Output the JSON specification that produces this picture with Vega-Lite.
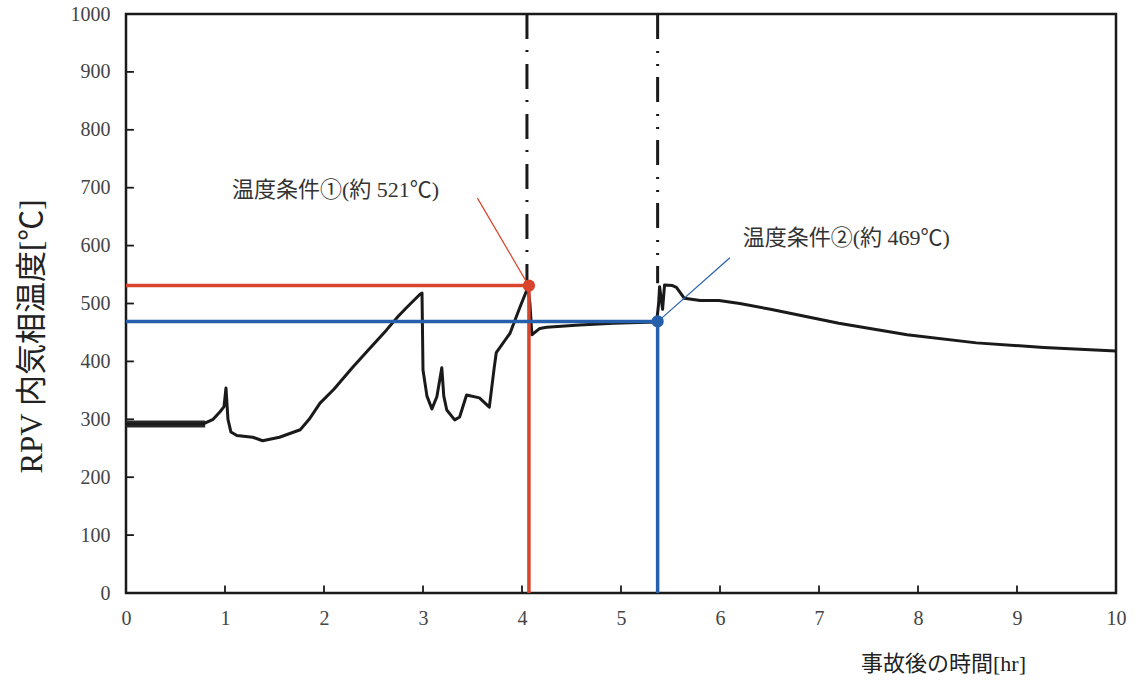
{
  "$schema": "https://vega.github.io/schema/vega-lite/v6.json",
  "width": 990,
  "height": 579,
  "autosize": {"type": "none"},
  "padding": {"left": 126, "top": 14, "right": 21, "bottom": 89},
  "background": "white",
  "config": {
    "view": {"stroke": "#1a1a1a", "strokeWidth": 2.5},
    "axis": {
      "grid": false,
      "domain": false,
      "ticks": false,
      "labelFlush": false,
      "labelFont": "Liberation Serif, Times New Roman, serif",
      "labelFontSize": 20,
      "labelColor": "#444444",
      "titleFont": "Liberation Serif, Noto Sans CJK JP",
      "titleColor": "#222222",
      "titleFontWeight": "normal"
    }
  },
  "datasets": {
    "curve": [
      {"t": 0, "v": 292}, {"t": 0.78, "v": 292}, {"t": 0.88, "v": 300}, {"t": 0.95, "v": 313},
      {"t": 0.99, "v": 322}, {"t": 1.01, "v": 354}, {"t": 1.03, "v": 300}, {"t": 1.06, "v": 278},
      {"t": 1.12, "v": 272}, {"t": 1.28, "v": 269}, {"t": 1.38, "v": 263}, {"t": 1.55, "v": 269},
      {"t": 1.76, "v": 282}, {"t": 1.85, "v": 300}, {"t": 1.96, "v": 328}, {"t": 2.1, "v": 352},
      {"t": 2.29, "v": 390}, {"t": 2.45, "v": 420}, {"t": 2.63, "v": 454}, {"t": 2.75, "v": 478},
      {"t": 2.84, "v": 494}, {"t": 2.97, "v": 516}, {"t": 2.99, "v": 518}, {"t": 3.0, "v": 385},
      {"t": 3.04, "v": 340}, {"t": 3.09, "v": 318}, {"t": 3.14, "v": 339}, {"t": 3.19, "v": 389},
      {"t": 3.21, "v": 340}, {"t": 3.24, "v": 316}, {"t": 3.32, "v": 299}, {"t": 3.37, "v": 304},
      {"t": 3.44, "v": 342}, {"t": 3.57, "v": 337}, {"t": 3.67, "v": 321}, {"t": 3.72, "v": 390},
      {"t": 3.74, "v": 415}, {"t": 3.88, "v": 449}, {"t": 3.98, "v": 494}, {"t": 4.06, "v": 528},
      {"t": 4.08, "v": 500}, {"t": 4.1, "v": 446}, {"t": 4.18, "v": 457}, {"t": 4.25, "v": 459},
      {"t": 4.58, "v": 463}, {"t": 4.92, "v": 466}, {"t": 5.36, "v": 468}, {"t": 5.38, "v": 500},
      {"t": 5.39, "v": 529}, {"t": 5.42, "v": 490}, {"t": 5.44, "v": 532}, {"t": 5.52, "v": 531},
      {"t": 5.56, "v": 528}, {"t": 5.64, "v": 509}, {"t": 5.8, "v": 505}, {"t": 5.99, "v": 505},
      {"t": 6.2, "v": 500}, {"t": 6.51, "v": 490}, {"t": 7.2, "v": 466}, {"t": 7.89, "v": 446},
      {"t": 8.59, "v": 432}, {"t": 9.27, "v": 424}, {"t": 10, "v": 418}
    ],
    "band": [{"t": 0, "v": 292}, {"t": 0.8, "v": 292}],
    "xticks": [{"t": 1}, {"t": 2}, {"t": 3}, {"t": 4}, {"t": 5}, {"t": 6}, {"t": 7}, {"t": 8}, {"t": 9}],
    "yticks": [{"v": 100}, {"v": 200}, {"v": 300}, {"v": 400}, {"v": 500}, {"v": 600}, {"v": 700}, {"v": 800}, {"v": 900}],
    "guides": [
      {"s": "red", "o": 1, "t": 0, "v": 531},
      {"s": "red", "o": 2, "t": 4.07, "v": 531},
      {"s": "red", "o": 3, "t": 4.07, "v": 0},
      {"s": "blue", "o": 1, "t": 0, "v": 469},
      {"s": "blue", "o": 2, "t": 5.37, "v": 469},
      {"s": "blue", "o": 3, "t": 5.37, "v": 0}
    ],
    "dots": [
      {"s": "red", "t": 4.07, "v": 531},
      {"s": "blue", "t": 5.37, "v": 469}
    ],
    "vlines": [
      {"k": "a", "t": 4.05, "v1": 1000, "v2": 533},
      {"k": "b", "t": 5.37, "v1": 1000, "v2": 535}
    ],
    "leaders": [
      {"s": "red", "t1": 3.55, "v1": 682, "t2": 4.06, "v2": 533},
      {"s": "blue", "t1": 5.38, "v1": 470, "t2": 6.1, "v2": 579}
    ],
    "labels": [
      {"t": 1.07, "v": 696, "txt": "温度条件①(約 521℃)"},
      {"t": 6.23, "v": 613, "txt": "温度条件②(約 469℃)"}
    ]
  },
  "layer": [
    {
      "data": {"name": "band"},
      "mark": {"type": "line", "color": "#2a2a2a", "strokeWidth": 7},
      "encoding": {
        "x": {"field": "t", "type": "quantitative", "scale": {"domain": [0, 10], "nice": false},
          "axis": {"values": [0,1,2,3,4,5,6,7,8,9,10], "format": "d", "labelPadding": 15, "title": "事故後の時間[hr]", "titleFontSize": 22, "titleX": 817, "titleY": 70, "titleAlign": "center", "titleBaseline": "middle"}},
        "y": {"field": "v", "type": "quantitative", "scale": {"domain": [0, 1000], "nice": false},
          "axis": {"values": [0,100,200,300,400,500,600,700,800,900,1000], "format": "d", "labelPadding": 16, "title": "RPV 内気相温度[℃]", "titleFontSize": 31, "titleX": -94, "titleY": 322, "titleAngle": -90, "titleAlign": "center", "titleBaseline": "middle"}}
      }
    },
    {
      "data": {"name": "xticks"},
      "mark": {"type": "rule", "strokeWidth": 1.8, "color": "#1a1a1a"},
      "encoding": {
        "x": {"field": "t", "type": "quantitative"},
        "y": {"datum": 0, "type": "quantitative"},
        "y2": {"datum": 13}
      }
    },
    {
      "data": {"name": "yticks"},
      "mark": {"type": "rule", "strokeWidth": 1.8, "color": "#1a1a1a"},
      "encoding": {
        "y": {"field": "v", "type": "quantitative"},
        "x": {"datum": 0, "type": "quantitative"},
        "x2": {"datum": 0.08}
      }
    },
    {
      "data": {"name": "curve"},
      "mark": {"type": "line", "color": "#1a1a1a", "strokeWidth": 3, "strokeJoin": "round"},
      "encoding": {
        "x": {"field": "t", "type": "quantitative"},
        "y": {"field": "v", "type": "quantitative"}
      }
    },
    {
      "data": {"name": "vlines"},
      "mark": {"type": "rule", "color": "#1a1a1a", "strokeWidth": 3},
      "encoding": {
        "x": {"field": "t", "type": "quantitative"},
        "y": {"field": "v1", "type": "quantitative"},
        "y2": {"field": "v2"},
        "strokeDash": {"field": "k", "type": "nominal", "scale": {"domain": ["a", "b"], "range": [[25, 11, 2, 12], [25, 12, 2, 11, 2, 11]]}, "legend": null}
      }
    },
    {
      "data": {"name": "guides"},
      "mark": {"type": "line", "strokeWidth": 3.5},
      "encoding": {
        "x": {"field": "t", "type": "quantitative"},
        "y": {"field": "v", "type": "quantitative"},
        "order": {"field": "o"},
        "detail": {"field": "s"},
        "color": {"field": "s", "type": "nominal", "scale": {"domain": ["red", "blue"], "range": ["#d9442c", "#2660ad"]}, "legend": null}
      }
    },
    {
      "data": {"name": "leaders"},
      "mark": {"type": "rule", "strokeWidth": 1.2},
      "encoding": {
        "x": {"field": "t1", "type": "quantitative"},
        "y": {"field": "v1", "type": "quantitative"},
        "x2": {"field": "t2"},
        "y2": {"field": "v2"},
        "color": {"field": "s", "type": "nominal", "scale": {"domain": ["red", "blue"], "range": ["#e07050", "#3d72b5"]}, "legend": null}
      }
    },
    {
      "data": {"name": "dots"},
      "mark": {"type": "circle", "size": 150, "opacity": 1},
      "encoding": {
        "x": {"field": "t", "type": "quantitative"},
        "y": {"field": "v", "type": "quantitative"},
        "color": {"field": "s", "type": "nominal", "scale": {"domain": ["red", "blue"], "range": ["#d9442c", "#2660ad"]}, "legend": null}
      }
    },
    {
      "data": {"name": "labels"},
      "mark": {"type": "text", "align": "left", "baseline": "middle", "font": "Liberation Serif, Noto Sans CJK JP", "fontSize": 22, "color": "#333333"},
      "encoding": {
        "x": {"field": "t", "type": "quantitative"},
        "y": {"field": "v", "type": "quantitative"},
        "text": {"field": "txt"}
      }
    }
  ]
}
